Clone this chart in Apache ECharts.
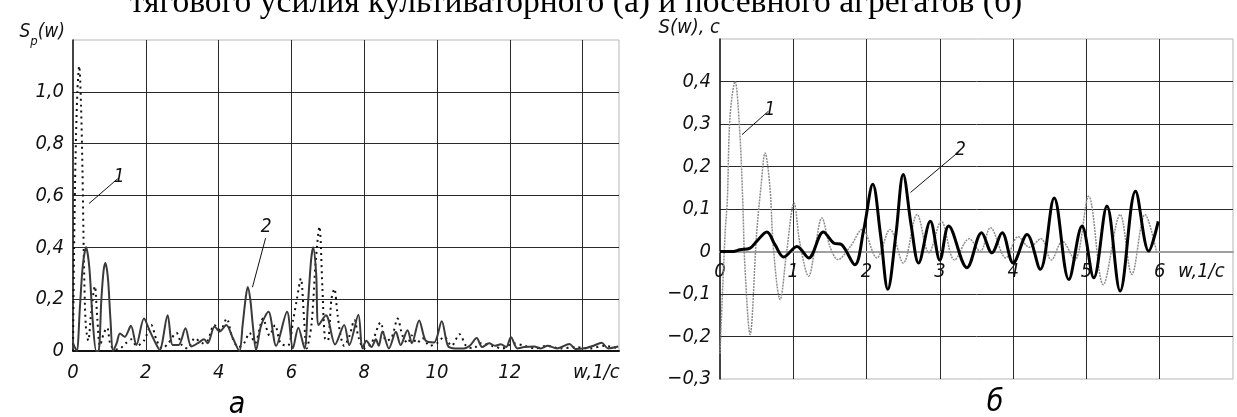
<!DOCTYPE html>
<html>
<head>
<meta charset="utf-8">
<script src="https://cdn.jsdelivr.net/npm/echarts@6/dist/echarts.min.js"></script>
<style>
html,body{margin:0;padding:0;background:#fff;}
#c{width:1237px;height:417px;}
</style>
</head>
<body>
<div id="c"></div>
<script>
// ---------- DATA ----------
const titleText = 'тягового усилия культиваторного (а) и посевного агрегатов (б)';
const captionA = 'а';
const captionB = 'б';

// Left panel (a): spectral density S_p(w)
const leftW1 = [0,0.03,0.07,0.12,0.17,0.22,0.26,0.3,0.35,0.42,0.5,0.6,0.67,0.74,0.85,0.94,1.02,1.15,1.3,1.45,1.6,1.75,1.95,2.15,2.3,2.45,2.62,2.84,3.0,3.15,3.35,3.55,3.7,3.88,4.05,4.22,4.38,4.55,4.7,4.85,5.0,5.22,5.4,5.55,5.7,5.9,6.05,6.15,6.26,6.35,6.42,6.55,6.67,6.77,6.85,6.92,7.0,7.1,7.18,7.26,7.35,7.45,7.6,7.73,7.85,8.0,8.2,8.45,8.6,8.75,8.92,9.05,9.2,9.3,9.45,9.6,9.8,10.0,10.2,10.4,10.62,10.8,11.0,11.2,11.5,11.8,12.1,12.4,12.7,13.0,13.4,13.8,14.2,14.6,15.0];
const leftS1 = [0,0.4,0.75,1.0,1.1,0.95,0.7,0.35,0.1,0.04,0.15,0.25,0.12,0.02,0.07,0.09,0.03,0.005,0.01,0.03,0.045,0.02,0.04,0.1,0.04,0.01,0.03,0.07,0.02,0.01,0.05,0.03,0.04,0.1,0.08,0.125,0.05,0.015,0.03,0.07,0.03,0.125,0.06,0.1,0.03,0.02,0.12,0.2,0.28,0.12,0.01,0.1,0.35,0.48,0.25,0.05,0.04,0.2,0.24,0.15,0.06,0.02,0.06,0.12,0.05,0.01,0.03,0.11,0.04,0.05,0.125,0.06,0.03,0.06,0.03,0.05,0.02,0.03,0.055,0.02,0.065,0.02,0.01,0.03,0.02,0.01,0.03,0.02,0.01,0.02,0.01,0.015,0.01,0.02,0.01];

const leftW2 = [0,0.1,0.19,0.27,0.36,0.45,0.54,0.64,0.7,0.78,0.84,0.89,0.96,1.03,1.1,1.2,1.29,1.42,1.59,1.74,1.95,2.11,2.25,2.38,2.6,2.74,2.9,3.09,3.25,3.43,3.6,3.7,3.89,4.03,4.21,4.39,4.57,4.66,4.74,4.8,4.87,4.94,5.03,5.17,5.37,5.58,5.88,6.04,6.19,6.36,6.45,6.54,6.6,6.68,6.75,6.95,7.2,7.45,7.59,7.84,7.95,8.06,8.2,8.32,8.4,8.5,8.68,8.87,9.0,9.19,9.31,9.51,9.69,9.92,10.13,10.3,10.5,10.74,10.9,11.09,11.24,11.43,11.6,11.75,11.9,12.03,12.21,12.4,12.67,12.85,13.04,13.3,13.64,13.8,14.1,14.3,14.52,14.7,14.98];
const leftS2 = [0.03,0.0,0.17,0.33,0.40,0.32,0.12,0.0,0.0,0.2,0.31,0.34,0.28,0.12,0.0,0.03,0.068,0.055,0.097,0.023,0.125,0.077,0.036,0.004,0.138,0.023,0.023,0.088,0.017,0.03,0.045,0.03,0.095,0.075,0.1,0.05,0.0,0.1,0.2,0.247,0.2,0.1,0.004,0.1,0.151,0.02,0.151,0.01,0.09,0.01,0.17,0.35,0.4,0.3,0.1,0.138,0.025,0.1,0.023,0.14,0.01,0.04,0.015,0.045,0.02,0.075,0.01,0.074,0.023,0.08,0.03,0.118,0.04,0.033,0.115,0.02,0.01,0.01,0.02,0.05,0.015,0.03,0.02,0.026,0.015,0.053,0.01,0.015,0.017,0.01,0.02,0.01,0.027,0.008,0.012,0.02,0.032,0.01,0.017];

// Right panel (б): S(w), c
const rightW1 = [0,0.07,0.1,0.137,0.205,0.27,0.31,0.34,0.41,0.5,0.56,0.615,0.68,0.73,0.82,0.91,1.01,1.09,1.21,1.3,1.39,1.5,1.61,1.78,1.94,2.14,2.32,2.5,2.69,2.85,3.02,3.2,3.4,3.55,3.69,3.9,4.07,4.22,4.38,4.52,4.67,4.84,5.03,5.23,5.46,5.62,5.8,5.96];
const rightS1 = [-0.24,0.044,0.122,0.318,0.40,0.28,0.12,-0.035,-0.195,0.043,0.154,0.232,0.154,0.005,-0.113,0.0,0.114,0.02,-0.058,0.012,0.079,0.012,-0.019,0.012,0.052,-0.015,0.052,-0.027,0.087,-0.003,0.071,-0.02,0.03,0.0,0.056,-0.015,0.035,0.01,0.03,-0.02,0.024,-0.02,0.13,-0.078,0.087,-0.054,0.087,-0.003];

const rightW2 = [0,0.18,0.27,0.41,0.5,0.64,0.75,0.87,1.05,1.21,1.41,1.55,1.66,1.84,1.96,2.085,2.19,2.29,2.4,2.5,2.61,2.71,2.87,3.0,3.12,3.37,3.57,3.71,3.85,4.0,4.19,4.37,4.56,4.76,4.94,5.1,5.28,5.46,5.67,5.85,5.98];
const rightS2 = [0,0.0,0.004,0.008,0.024,0.046,0.016,-0.013,0.012,-0.015,0.046,0.02,0.016,-0.031,0.05,0.158,0.04,-0.089,0.04,0.181,0.06,-0.027,0.071,-0.02,0.06,-0.038,0.044,-0.003,0.044,-0.027,0.04,-0.042,0.126,-0.066,0.06,-0.062,0.107,-0.093,0.142,0.001,0.071];

// leader annotations (data coordinates): [x1,y1,x2,y2,label]
const leftAnn1 = [0.44,0.569,1.23,0.665,'1'];
const leftAnn2 = [4.93,0.246,5.29,0.435,'2'];
const rightAnn1 = [0.30,0.275,0.66,0.33,'1'];
const rightAnn2 = [2.60,0.139,3.26,0.235,'2'];

// ---------- CHART ----------
const FONT = '"Liberation Sans Narrow","DejaVu Sans Condensed","Liberation Sans",sans-serif';
const zip = (a,b) => a.map((v,i)=>[v,b[i]]);
const comma = v => String(v).replace('.',',');
const lab = {fontFamily:FONT, fontStyle:'italic', fontSize:20, color:'#111'};

// right grid geometry: y range -0.3..0.5 over 340px -> zero line offset from bottom
const R_TOP = 39, R_H = 340, R_YMIN = -0.3, R_YMAX = 0.5;
const zeroOffset = -R_H * (0 - R_YMIN) / (R_YMAX - R_YMIN);

function ann(a){
  return {
    symbol:'none', silent:true, animation:false,
    lineStyle:{color:'#111', width:1, type:'solid'},
    label:{show:true, position:'end', formatter:a[4], distance:2, fontFamily:FONT, fontStyle:'italic', fontSize:19, color:'#111'},
    data:[[{coord:[a[0],a[1]]},{coord:[a[2],a[3]]}]]
  };
}

const chart = echarts.init(document.getElementById('c'), null, {renderer:'canvas'});
chart.setOption({
  animation:false,
  backgroundColor:'#fff',
  graphic:[
    {type:'text', style:{text:titleText, x:576, y:3, font:'33.6px "Liberation Serif","Times New Roman",serif', fill:'#000', textAlign:'center', textVerticalAlign:'middle'}},
    {type:'text', style:{text:captionA, x:237, y:405, font:'italic 30px '+FONT, fill:'#000', textAlign:'center', textVerticalAlign:'middle'}},
    {type:'text', style:{text:captionB, x:995, y:403, font:'italic 30px '+FONT, fill:'#000', textAlign:'center', textVerticalAlign:'middle'}}
  ],
  grid:[
    {left:73, top:40, width:546, height:311, show:true, borderColor:'#b5b5b5', borderWidth:1},
    {left:720, top:R_TOP, width:513, height:R_H, show:true, borderColor:'#b5b5b5', borderWidth:1}
  ],
  xAxis:[
    {type:'value', gridIndex:0, min:0, max:15, interval:2, z:1,
     axisLine:{onZero:false, lineStyle:{color:'#111', width:2}},
     axisTick:{show:false},
     splitLine:{show:true, showMinLine:false, showMaxLine:false, lineStyle:{color:'#2a2a2a', width:1}},
     axisLabel:Object.assign({margin:12, formatter:v=> v>13.5?'':String(v)}, lab),
     name:'w,1/c', nameLocation:'end', nameGap:-46, nameMoveOverlap:false,
     nameTextStyle:Object.assign({verticalAlign:'top', align:'left', padding:[12,0,0,0]}, lab)},
    {type:'value', gridIndex:1, min:0, max:7, interval:1, position:'bottom', offset:zeroOffset, z:1,
     axisLine:{onZero:false, lineStyle:{color:'#a0a0a0', width:2}},
     axisTick:{show:false},
     splitLine:{show:true, showMinLine:false, showMaxLine:false, lineStyle:{color:'#2a2a2a', width:1}},
     axisLabel:Object.assign({margin:10, formatter:v=> v>6.5?'':String(v)}, lab),
     name:'w,1/c', nameLocation:'end', nameGap:-55, nameMoveOverlap:false,
     nameTextStyle:Object.assign({verticalAlign:'top', align:'left', padding:[10,0,0,0]}, lab)}
  ],
  yAxis:[
    {type:'value', gridIndex:0, min:0, max:1.2, interval:0.2, z:0,
     axisLine:{show:true, onZero:false, lineStyle:{color:'#111', width:1.5}},
     axisTick:{show:false},
     splitLine:{show:true, showMinLine:false, showMaxLine:false, lineStyle:{color:'#2a2a2a', width:1}},
     axisLabel:Object.assign({margin:9, formatter:v=> v>1.1?'':(Math.abs(v)<1e-9?'0':comma(v.toFixed(1)))}, lab),
     name:'{m|S}{s|p}{m|(w)}', nameLocation:'end', nameGap:-8, nameMoveOverlap:false,
     nameTextStyle:{align:'right', verticalAlign:'bottom', padding:[0,8,0,0],
       rich:{m:{fontFamily:FONT, fontStyle:'italic', fontSize:19, color:'#111', verticalAlign:'top'},
             s:{fontFamily:FONT, fontStyle:'italic', fontSize:13, color:'#111', verticalAlign:'bottom', padding:[12,0,0,0]}}}},
    {type:'value', gridIndex:1, min:R_YMIN, max:R_YMAX, interval:0.1, z:0,
     axisLine:{show:true, onZero:false, lineStyle:{color:'#111', width:1.5}},
     axisTick:{show:false},
     splitLine:{show:true, showMinLine:false, showMaxLine:false, lineStyle:{color:'#2a2a2a', width:1}},
     axisLabel:Object.assign({margin:9, formatter:v=> v>0.45?'':(Math.abs(v)<1e-9?'0':(v<0?'−':'')+comma(Math.abs(v).toFixed(1)))}, lab),
     name:'S(w), c', nameLocation:'end', nameGap:1, nameMoveOverlap:false,
     nameTextStyle:Object.assign({align:'right', verticalAlign:'bottom', padding:[0,0,0,0]}, lab)}
  ],
  series:[
    {type:'line', xAxisIndex:0, yAxisIndex:0, data:zip(leftW1,leftS1), showSymbol:false, smooth:0.3,
     lineStyle:{color:'#111', width:2, type:[2,4]}, z:3, markLine:ann(leftAnn1)},
    {type:'line', xAxisIndex:0, yAxisIndex:0, data:zip(leftW2,leftS2), showSymbol:false, smooth:0.3,
     lineStyle:{color:'#3a3a3a', width:2}, z:4, markLine:ann(leftAnn2)},
    {type:'line', xAxisIndex:1, yAxisIndex:1, data:zip(rightW1,rightS1), showSymbol:false, smooth:0.35,
     lineStyle:{color:'#8c8c8c', width:1.5, type:[2,1]}, z:3, markLine:ann(rightAnn1)},
    {type:'line', xAxisIndex:1, yAxisIndex:1, data:zip(rightW2,rightS2), showSymbol:false, smooth:0.35,
     lineStyle:{color:'#000', width:3}, z:4, markLine:ann(rightAnn2)}
  ]
});
</script>
</body>
</html>
